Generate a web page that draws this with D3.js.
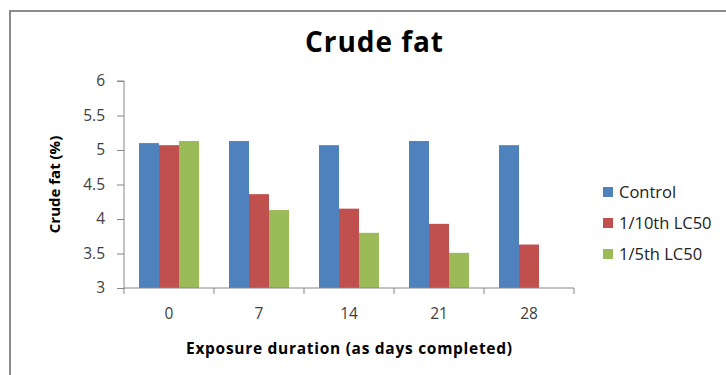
<!DOCTYPE html>
<html><head><meta charset="utf-8">
<script src="https://cdn.jsdelivr.net/npm/d3@7"></script>
<style>body{margin:0;background:#fff}svg{display:block}</style>
</head><body>
<script>
const categories = ["0","7","14","21","28"];
const seriesNames = ["Control","1/10th LC50","1/5th LC50"];
const control = [5.10, 5.13, 5.07, 5.13, 5.07];
const tenth = [5.07, 4.36, 4.15, 3.93, 3.63];
const fifth = [5.13, 4.13, 3.80, 3.51, null];
const yTicks = [3, 3.5, 4, 4.5, 5, 5.5, 6];
const colors = ["#4F81BD","#C0504D","#9BBB59"];
const seriesValues = [control, tenth, fifth];

(function(){
const W = 726, H = 375;
const svg = d3.select("body").append("svg").attr("width", W).attr("height", H);
const font = "'Open Sans', 'DejaVu Sans', sans-serif";

// frame
svg.append("path").attr("d", `M10,${H} L10,11 L${W},11`).attr("fill","none")
  .attr("stroke","#8c8c8c").attr("stroke-width",2);

const pLeft = 124, pRight = 574, pTop = 81, pBottom = 288;
const x = d3.scaleBand().domain(categories).range([pLeft, pRight]).paddingInner(0).paddingOuter(0);
const inner = d3.scaleBand().domain(d3.range(seriesNames.length)).range([0, x.bandwidth()]).paddingInner(0).paddingOuter(0.75);
const y = d3.scaleLinear().domain([3, 6]).range([pBottom, pTop]);

// bars
seriesValues.forEach((vals, si) => {
  svg.append("g").selectAll("rect").data(vals.map((v,i)=>({v, c: categories[i]})).filter(d => d.v != null))
    .join("rect")
    .attr("x", d => x(d.c) + inner(si))
    .attr("width", inner.bandwidth())
    .attr("y", d => y(d.v))
    .attr("height", d => y(3) - y(d.v))
    .attr("fill", colors[si]);
});

// y axis
const ya = svg.append("g").attr("transform", `translate(${pLeft},0)`)
  .call(d3.axisLeft(y).tickValues(yTicks).tickSize(7).tickPadding(12).tickFormat(d3.format("")));
ya.select(".domain").attr("stroke","#868686").attr("d", `M-7,${pTop}H0V${pBottom}`);
ya.selectAll(".tick line").attr("stroke","#868686");
ya.selectAll("text").attr("font-family", font).attr("font-size", 15.5).attr("fill","#404040");

// x axis
const xa = svg.append("g").attr("transform", `translate(0,${pBottom})`)
  .call(d3.axisBottom(x).tickSize(0).tickPadding(20));
xa.select(".domain").attr("stroke","#868686").attr("d", `M${pLeft},0H${pRight}`);
xa.selectAll("text").attr("font-family", font).attr("font-size", 15.5).attr("fill","#404040");
xa.selectAll(".xt").data(d3.range(categories.length + 1)).join("line")
  .attr("x1", i => pLeft + i * x.step()).attr("x2", i => pLeft + i * x.step())
  .attr("y1", 0).attr("y2", 6).attr("stroke","#868686");

// title
svg.append("text").attr("x", 374).attr("y", 52).attr("text-anchor","middle")
  .attr("font-family", font).attr("font-weight","bold").attr("font-size", 28)
  .attr("textLength", 138).attr("lengthAdjust","spacing").text("Crude fat");

// axis titles
svg.append("text").attr("x", 349).attr("y", 354).attr("text-anchor","middle")
  .attr("font-family", font).attr("font-weight","bold").attr("font-size", 15.5)
  .attr("textLength", 326).attr("lengthAdjust","spacing").text("Exposure duration (as days completed)");
svg.append("text").attr("transform", `translate(60,${(pTop+pBottom)/2}) rotate(-90)`).attr("text-anchor","middle")
  .attr("font-family", font).attr("font-weight","bold").attr("font-size", 15)
  .text("Crude fat (%)");

// legend
const lg = svg.append("g");
seriesNames.forEach((n, i) => {
  const cy = 192 + i * 31;
  lg.append("rect").attr("x", 603).attr("y", cy - 5).attr("width", 10).attr("height", 10).attr("fill", colors[i]);
  lg.append("text").attr("x", 619).attr("y", cy + 6).attr("font-family", font).attr("font-size", 16.5)
    .attr("fill","#222").text(n);
});
})();
</script>
</body></html>
